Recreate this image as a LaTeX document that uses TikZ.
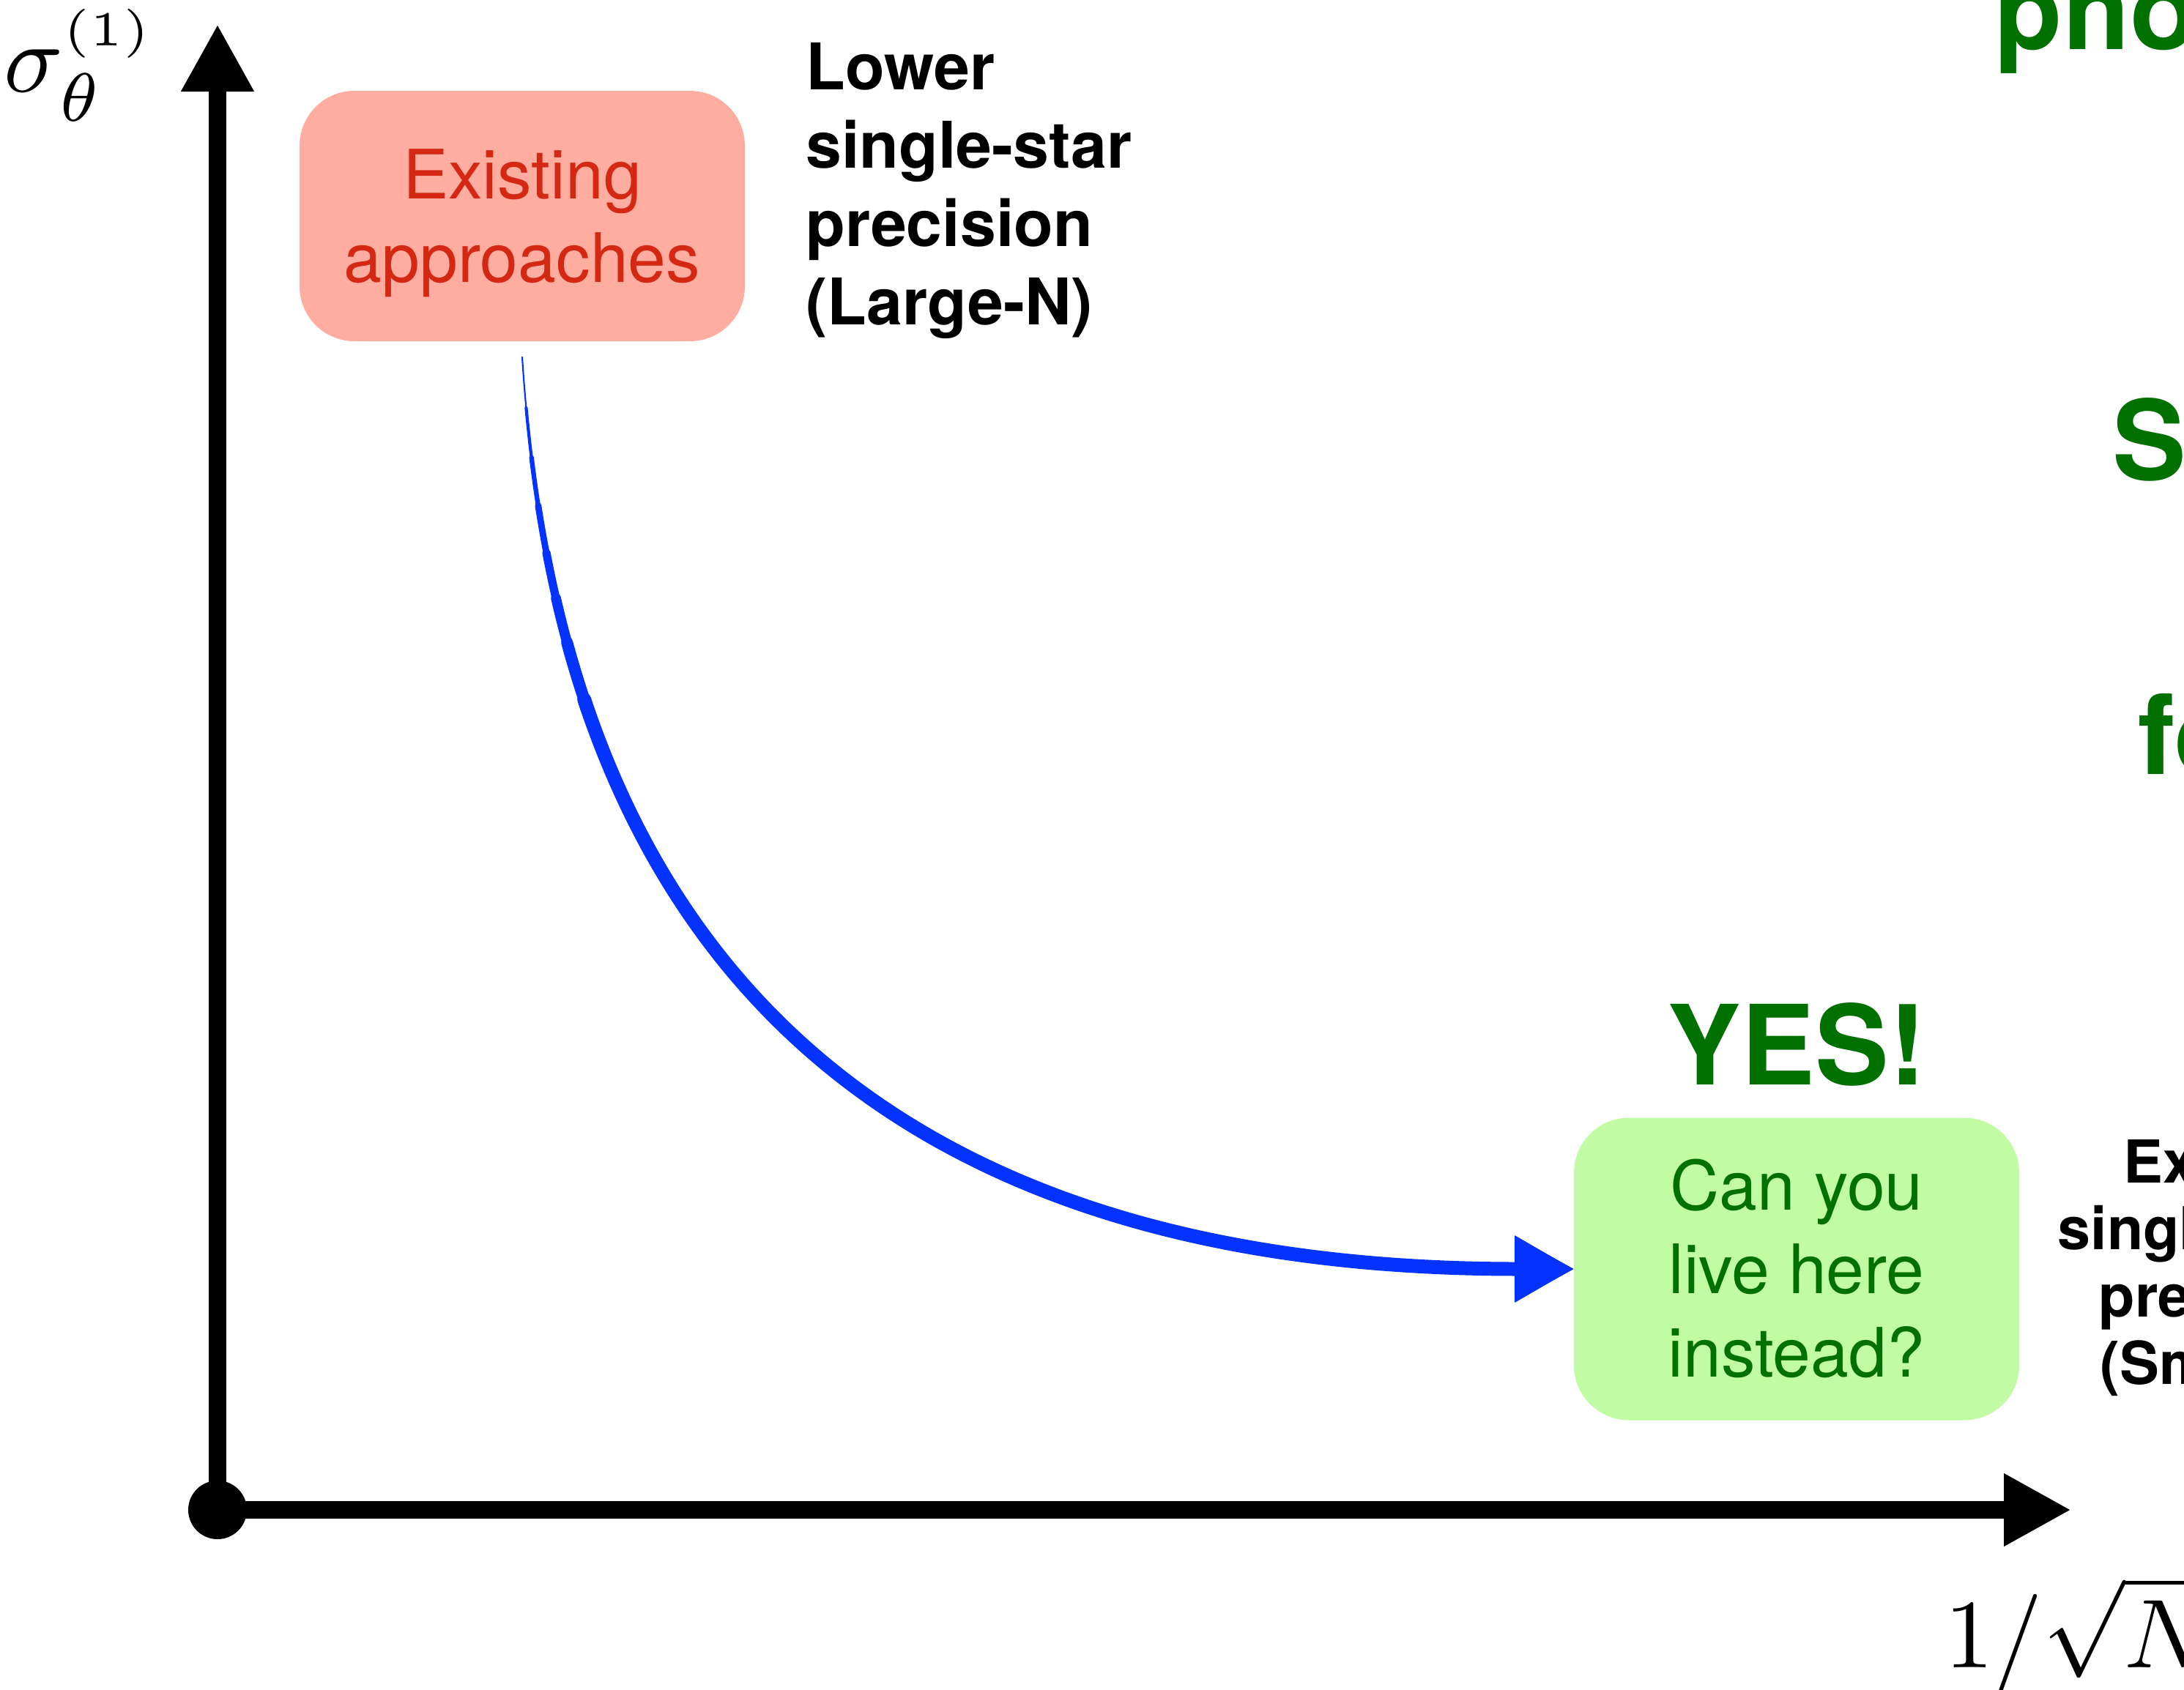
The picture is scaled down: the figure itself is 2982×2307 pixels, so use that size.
\documentclass[tikz,border=0pt]{standalone}
\usepackage{fontspec}
\setmainfont{TeX Gyre Heros}
\usepackage{tikz}
\usetikzlibrary{arrows.meta,calc,positioning}

\definecolor{salmon}{RGB}{254,173,160}
\definecolor{redtxt}{RGB}{212,40,18}
\definecolor{paleg}{RGB}{193,251,164}
\definecolor{darkg}{RGB}{0,112,0}
\definecolor{flowblue}{RGB}{4,51,255}

\begin{document}
\begin{tikzpicture}[
    x=0.1mm, y=-0.1mm,
    axis/.style    = {line width=6.7pt, -{Triangle[length=9.2mm, width=9.3mm]}},
    panel/.style   = {rounded corners=7.5mm, minimum width=6.08cm, inner sep=0pt,
                      align=center, text depth=0pt,
                      font=\fontsize{26.5}{32.4}\selectfont},
    note/.style    = {align=left, inner sep=0pt, anchor=base west,
                      font=\bfseries\fontsize{25}{30.4}\selectfont},
    sidenote/.style = {inner sep=0pt, anchor=base west,
                      font=\bfseries\fontsize{23}{26}\selectfont},
    shout/.style   = {inner sep=0pt, text=darkg,
                      font=\bfseries\fontsize{43}{50}\selectfont},
    mathlbl/.style = {inner sep=0pt, anchor=base west, scale=3.8,
                      font=\normalsize},
    flow/.style    = {draw=flowblue, line cap=round,
                      -{Triangle[length=8mm, width=8.6mm]}}
  ]

  \useasboundingbox (0,0) rectangle (2982,2307);
  \clip (0,0) rectangle (2982,2307);

  % axes
  \coordinate (o)    at (297,2062);
  \coordinate (ytip) at (297,33);
  \coordinate (xtip) at (2828,2062);

  \draw[axis] (o) -- (ytip);
  \draw[axis] (o) -- (xtip);
  \node[circle, fill, minimum size=8mm, inner sep=0pt] (origin) at (o) {};

  \node[mathlbl] (ylab) at (3,125)     {$\sigma_{\theta}^{\scriptscriptstyle(1)}$};
  \node[mathlbl] (xlab) at (2653,2277) {$1/\sqrt{N}$};

  % boxes (text height = cap height + one skip per extra line)
  \node[panel, fill=salmon, text=redtxt, minimum height=3.42cm, text height=18.1mm]
       (exist) at (713,295) {Existing\\approaches};
  \node[panel, fill=paleg, text=darkg, minimum height=4.13cm, text height=29.5mm]
       (live) at (2453,1733) {Can you\\live here\\instead?};

  \node[shout, anchor=base] (yes) at ($(live.north)+(0,-44)$) {YES!};

  % base = last line
  \node[note] (lower) at (1100,443) {Lower\\single-star\\precision\\(Large-N)};

  % text cut off at the right edge
  \coordinate (smallref) at (2809,1615);
  \foreach \txt/\dx [count=\k from 0] in {{Ex}/90, {singl}/0, {pre}/56, {(Sm}/58}
    \node[sidenote] (small\k) at ($(smallref)+(\dx,\k*91.7)$) {\txt};

  \node[shout, anchor=base west] (pho) at (2723,67)   {pho};
  \node[shout, anchor=base west] (sss) at (2884,655)  {S};
  \node[shout, anchor=base west] (fff) at (2919,1057) {fo};

  % the move: one curve, drawn in layers that start later and get wider
  \coordinate (p0) at ($(exist.south)+(0,21)$);
  \coordinate (p1) at ($(p0)+(50,780)$);
  \coordinate (p2) at ($(live.west)+(-1000,0)$);
  \coordinate (p3) at (live.west);
  \foreach \t/\w in {0/0.6, 0.03/1.2, 0.06/1.8, 0.09/2.5, 0.12/3.2,
                     0.15/3.9, 0.18/4.6, 0.22/5.4} {
    \path ($(p0)!\t!(p1)$) coordinate (a1)
          ($(p1)!\t!(p2)$) coordinate (a2)
          ($(p2)!\t!(p3)$) coordinate (a3);
    \path ($(a1)!\t!(a2)$) coordinate (b1)
          ($(a2)!\t!(a3)$) coordinate (b2);
    \path ($(b1)!\t!(b2)$) coordinate (bt);
    \draw[flow, line width=\w pt] (bt) .. controls (b2) and (a3) .. (p3);
  }

\end{tikzpicture}
\end{document}
